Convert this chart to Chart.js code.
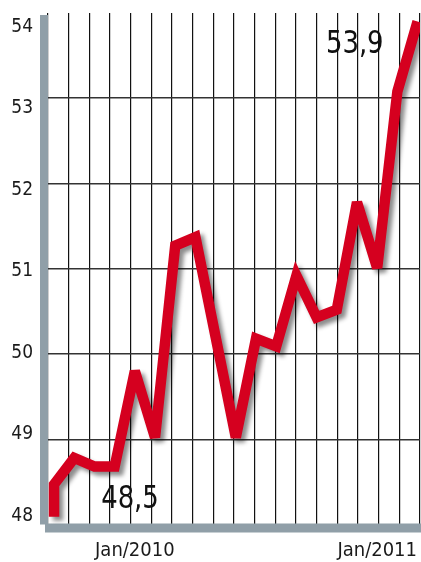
<!DOCTYPE html>
<html>
<head>
<meta charset="utf-8">
<script src="https://cdn.jsdelivr.net/npm/chart.js@4/dist/chart.umd.min.js"></script>
<style>
  html, body { margin: 0; padding: 0; background: #ffffff; }
  #wrap { width: 421px; height: 562px; position: relative; }
  canvas { display: block; }
</style>
</head>
<body>
<div id="wrap"><canvas id="c" width="421" height="562"></canvas></div>
<script>
// ---- data ----
// month index: 0 = first month shown, 4 = Jan/2010, 16 = Jan/2011
const monthIndex = [0, 0, 1, 2, 3, 4, 5, 6, 7, 8, 9, 10, 11, 12, 13, 14, 15, 16, 17, 18];
const indexValues = [48.09, 48.47, 48.78, 48.68, 48.68, 49.80, 49.02, 51.27, 51.37, 50.20, 49.02,
                     50.18, 50.09, 50.92, 50.43, 50.52, 51.78, 51.01, 53.08, 53.90];
const yTickValues = [48, 49, 50, 51, 52, 53, 54];
const xTickPositions = [4, 16];
const xTickLabels = ['Jan/2010', 'Jan/2011'];
const calloutTexts = ['48,5', '53,9'];

const FONT = "'Liberation Sans Narrow', 'DejaVu Sans Condensed', 'Liberation Sans', sans-serif";
const RED = '#d5001f';
const BAR = '#909fa8';

const decor = {
  id: 'decor',
  beforeDatasetsDraw(chart) {
    const { ctx, chartArea: a } = chart;
    ctx.save();
    ctx.fillStyle = BAR;
    ctx.fillRect(a.left - 8, a.top + 2, 8, a.bottom - a.top - 2);
    ctx.fillRect(a.left - 3, a.bottom - 1, chart.width - (a.left - 3), 9);
    ctx.restore();
  },
  beforeDatasetDraw(chart) {
    const ctx = chart.ctx;
    ctx.save();
    ctx.shadowColor = 'rgba(0,0,0,0.45)';
    ctx.shadowBlur = 4;
    ctx.shadowOffsetX = 4;
    ctx.shadowOffsetY = 4;
    ctx.miterLimit = 3.5;
  },
  afterDatasetDraw(chart) {
    chart.ctx.restore();
  },
  afterDatasetsDraw(chart) {
    const { ctx, scales } = chart;
    const first = 1, last = indexValues.length - 1;
    const put = (txt, px, py) => {
      ctx.save();
      ctx.translate(px, py);
      ctx.scale(0.9, 1);
      ctx.fillText(txt, 0, 0);
      ctx.restore();
    };
    ctx.save();
    ctx.font = "32px " + FONT;
    ctx.fillStyle = '#111';
    ctx.textAlign = 'center';
    ctx.textBaseline = 'alphabetic';
    // callout for the first value, placed below the line
    put(calloutTexts[0],
      scales.x.getPixelForValue(monthIndex[first] + 3.76),
      scales.y.getPixelForValue(indexValues[first] - 0.28));
    // callout for the last value, placed left of the end point
    put(calloutTexts[1],
      scales.x.getPixelForValue(monthIndex[last] - 3.11),
      scales.y.getPixelForValue(indexValues[last] - 0.37));
    ctx.restore();
  }
};

new Chart(document.getElementById('c'), {
  type: 'line',
  data: {
    datasets: [{
      data: monthIndex.map((m, i) => ({ x: m, y: indexValues[i] })),
      borderColor: RED,
      borderWidth: 10.5,
      borderJoinStyle: 'miter',
      borderCapStyle: 'butt',
      pointRadius: 0,
      tension: 0,
      fill: false
    }]
  },
  options: {
    responsive: false,
    animation: false,
    devicePixelRatio: 1,
    layout: { padding: { top: 13, right: 1, bottom: 0, left: 0 } },
    plugins: { legend: { display: false }, tooltip: { enabled: false } },
    scales: {
      x: {
        type: 'linear', position: 'bottom', min: -0.3, max: 18.12, weight: 1,
        grid: { display: false, drawTicks: false }, border: { display: false },
        afterBuildTicks: s => { s.ticks = xTickPositions.map(v => ({ value: v })); },
        afterFit: s => { s.height = 37.5; s.paddingLeft = 0; s.paddingRight = 0; },
        ticks: {
          autoSkip: false, maxRotation: 0, padding: 14, color: '#1a1a1a',
          font: { family: FONT, size: 20 },
          callback: (v) => xTickLabels[xTickPositions.indexOf(v)]
        }
      },
      xg: {
        type: 'linear', position: 'bottom', min: 0, max: 18, weight: 0,
        grid: { color: '#111', lineWidth: 1.2, drawTicks: false },
        border: { display: false },
        ticks: { display: false, stepSize: 1 },
        afterFit: s => { s.height = 0; s.paddingLeft = 0; s.paddingRight = 0; }
      },
      y: {
        type: 'linear', position: 'left', min: 48, max: 54, weight: 0,
        grid: {
          drawTicks: false, lineWidth: 1.5,
          color: c => (c.tick && c.tick.value === 54) ? 'rgba(0,0,0,0)' : '#333'
        },
        border: { display: false },
        ticks: { display: false, stepSize: 1 },
        afterFit: s => { s.width = 0; s.paddingTop = 0; s.paddingBottom = 0; }
      },
      yl: {
        type: 'linear', position: 'left', min: 47.896, max: 54.168, weight: 1,
        grid: { display: false, drawTicks: false }, border: { display: false },
        afterBuildTicks: s => { s.ticks = yTickValues.map(v => ({ value: v })); },
        afterFit: s => { s.width = 48; s.paddingTop = 0; s.paddingBottom = 0; },
        ticks: {
          padding: 15, color: '#1a1a1a',
          font: { family: FONT, size: 19 },
          callback: v => String(v)
        }
      }
    }
  },
  plugins: [decor]
});
</script>
</body>
</html>
